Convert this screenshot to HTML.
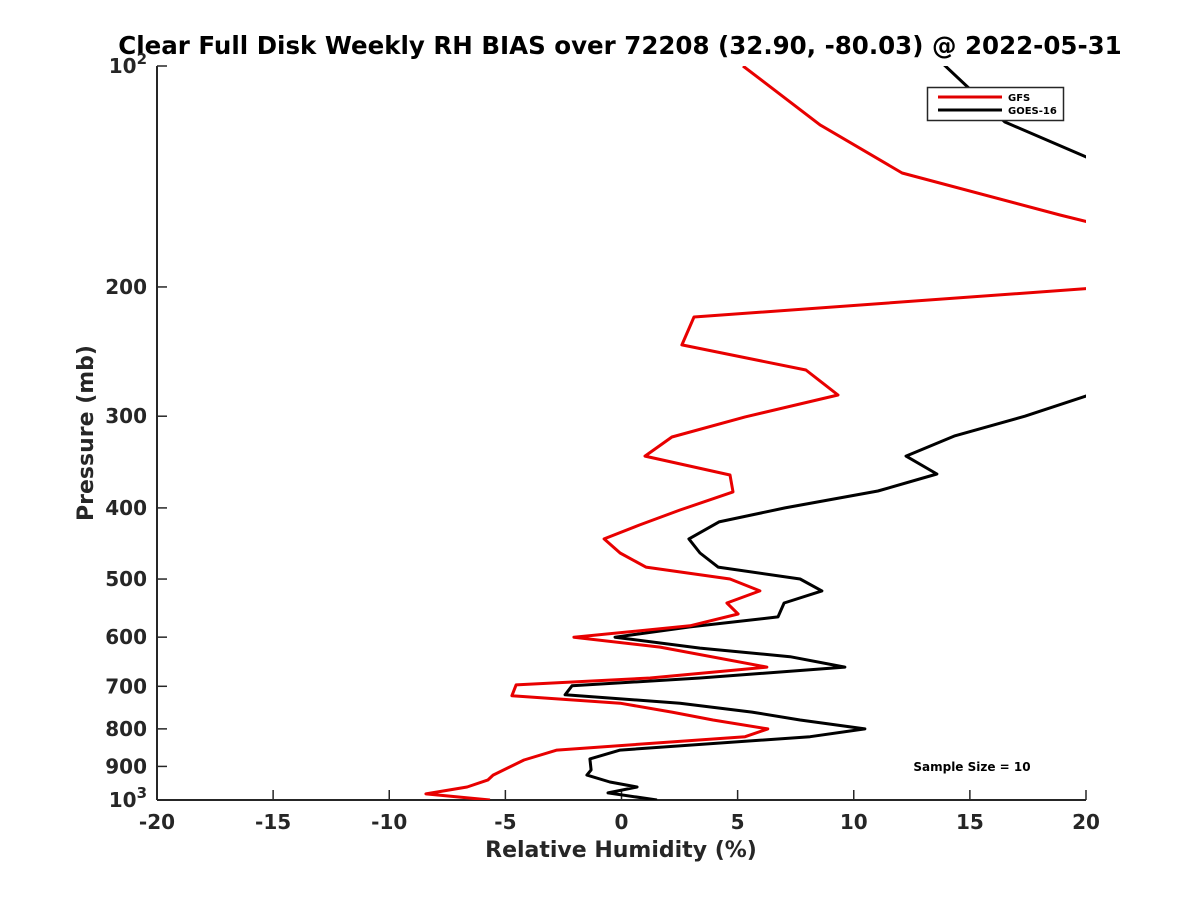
<!DOCTYPE html>
<html><head><meta charset="utf-8"><style>
body{margin:0;background:#fff}
svg{display:block;font-family:"DejaVu Sans","Liberation Sans",sans-serif;font-weight:bold}
</style></head><body>
<svg id="chart" width="1200" height="900" viewBox="0 0 1200 900" xmlns="http://www.w3.org/2000/svg">
<defs><clipPath id="clip"><rect x="157" y="66" width="929" height="734"/></clipPath></defs>
<text x="620" y="54" text-anchor="middle" font-size="24.5" fill="#000">Clear Full Disk Weekly RH BIAS over 72208 (32.90, -80.03) @ 2022-05-31</text>
<g id="axes"></g>
<g id="series" clip-path="url(#clip)"></g>
<text transform="translate(93,433) rotate(-90)" text-anchor="middle" font-size="22" fill="#262626">Pressure (mb)</text>
<text x="621" y="857" text-anchor="middle" font-size="22" fill="#262626">Relative Humidity (%)</text>
<text x="972" y="771" text-anchor="middle" font-size="12" fill="#000">Sample Size = 10</text>
<g>
<rect x="927.5" y="87.5" width="136" height="33" fill="#fff" stroke="#262626" stroke-width="1.5"/>
<line x1="938" y1="97" x2="1002" y2="97" stroke="#e00000" stroke-width="3"/>
<text x="1008" y="101" font-size="10">GFS</text>
<line x1="938" y1="110" x2="1002" y2="110" stroke="#000" stroke-width="3"/>
<text x="1008" y="114" font-size="10">GOES-16</text>
</g>
</svg>
<script>
const xTicks=[-20,-15,-10,-5,0,5,10,15,20];
const yTicks=[100,200,300,400,500,600,700,800,900,1000];
const yTickLabels=["10²","200","300","400","500","600","700","800","900","10³"];
const gfsP=[100,120.3,139.9,159.6,175,200,219.8,239.9,259.5,280.7,300.7,320.2,340,360.8,380.4,402.6,421.9,440.8,460.8,481.6,500,519,539,558,579,600,619,659,682,697,721,738,759,778,800,820,855,882,925,939,960,981,1000];
const gfsV=[5.23,8.55,12.08,18.88,24,21,3.12,2.6,7.94,9.32,5.32,2.17,1.01,4.67,4.8,2.52,0.79,-0.75,-0.06,1.05,4.67,5.96,4.54,5.02,2.95,-2.05,1.66,6.26,1.23,-4.54,-4.72,-0.06,2.17,3.94,6.3,5.32,-2.78,-4.2,-5.53,-5.75,-6.65,-8.42,-5.66];
const goesP=[97,119.2,133,170,240,281.6,300,319,340,359.6,379.3,400,418,440.8,460.8,481.6,500,519,539,563,581,600,621,638,659,682,699,719,738,759,778,800,820,855,879,910,925,945,960,978,1000];
const goesV=[13.5,16.51,20,30,30,20,17.37,14.36,12.25,13.58,11.04,7.04,4.2,2.9,3.38,4.16,7.69,8.63,7.0,6.74,2.95,-0.28,3.38,7.26,9.62,3.38,-2.13,-2.43,2.52,5.62,7.69,10.48,8.12,-0.06,-1.36,-1.31,-1.49,-0.5,0.67,-0.58,1.53];
const X0=157,X1=1086,Y0=66,Y1=800;
const sx=v=>X0+(v+20)/40*(X1-X0);
const sy=p=>Y0+(Math.log10(p)-2)*(Y1-Y0);
const NS="http://www.w3.org/2000/svg";
const axes=document.getElementById('axes'),series=document.getElementById('series');
function mk(tag,attrs,parent){const e=document.createElementNS(NS,tag);for(const k in attrs)e.setAttribute(k,attrs[k]);parent.appendChild(e);return e;}
const xa=mk('line',{x1:X0,y1:Y1,x2:X1,y2:Y1,stroke:'#262626','stroke-width':2},axes);


const ya=mk('line',{x1:X0,y1:Y0,x2:X0,y2:Y1,stroke:'#262626','stroke-width':2},axes);


xTicks.forEach(v=>{
  mk('line',{x1:sx(v),y1:Y1,x2:sx(v),y2:Y1-10,stroke:'#262626','stroke-width':1.5},axes);
  const t=mk('text',{x:sx(v),y:Y1+29,'text-anchor':'middle','font-size':20,fill:'#262626'},axes);
  
  
  t.textContent=String(v);
});
yTicks.forEach((p,i)=>{
  mk('line',{x1:X0,y1:sy(p),x2:X0+10,y2:sy(p),stroke:'#262626','stroke-width':1.5},axes);
  const t=mk('text',{x:X0-10,y:sy(p)+7,'text-anchor':'end','font-size':20,fill:'#262626'},axes);
  
  
  const s=yTickLabels[i];
  if(s.startsWith('10')&&s.length===3){
    t.textContent='10';
    const sp=mk('tspan',{dy:-9,'font-size':15},t);sp.textContent=s[2]==='²'?'2':'3';
  } else t.textContent=s;
});
function drawLine(P,V,color,name){
  const d=P.map((p,i)=>(i?'L':'M')+sx(V[i]).toFixed(1)+','+sy(p).toFixed(1)).join(' ');
  const e=mk('path',{d:d,fill:'none',stroke:color,'stroke-width':3,'stroke-linejoin':'round'},series);
  
  
}
drawLine(goesP,goesV,'#000','goes16-line');
drawLine(gfsP,gfsV,'#e80000','gfs-line');
</script>
</body></html>
